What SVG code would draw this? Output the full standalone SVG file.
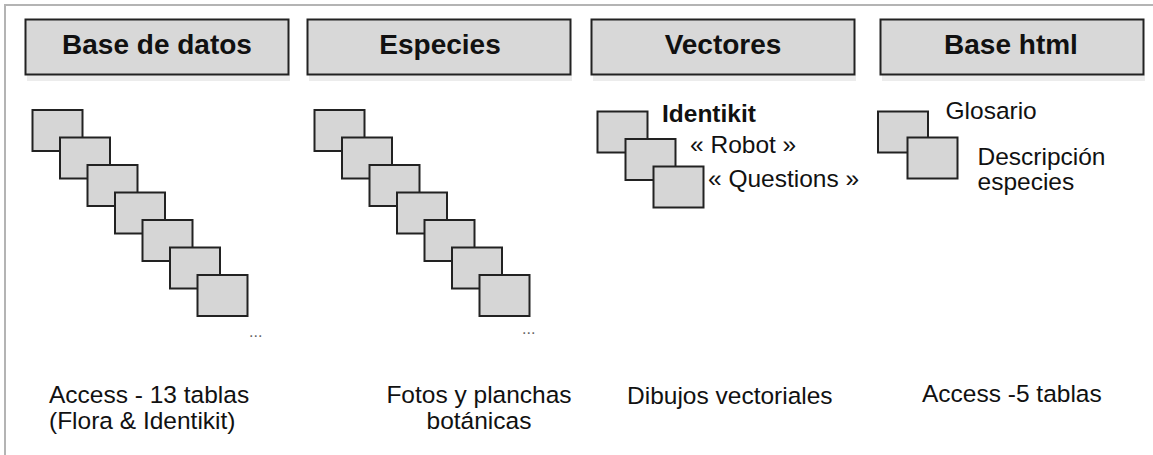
<svg xmlns="http://www.w3.org/2000/svg" width="1153" height="455" viewBox="0 0 1153 455">
  <style>
    .hdr { fill: #d8d8d8; stroke: #222; stroke-width: 2; }
    .shadow { fill: #ececec; }
    .hdrtxt { font-family: "Liberation Sans", Arial, sans-serif; font-weight: bold; font-size: 28px; fill: #111; text-anchor: middle; }
    .sq { fill: #d6d6d6; stroke: #222; stroke-width: 2; }
    .txt { font-family: "Liberation Sans", Arial, sans-serif; font-size: 24.5px; fill: #111; }
    .bold { font-weight: bold; }
    .dots { font-family: "Liberation Sans", Arial, sans-serif; font-size: 16px; fill: #666; }
    .frame { fill: none; stroke: #b4b4b4; stroke-width: 2; }
  </style>
  <defs>
    <rect id="s1" width="50" height="41" class="sq"/>
  </defs>
  <rect x="0" y="0" width="1153" height="455" fill="#ffffff"/>
  <path class="frame" d="M5,455 V5 H1153"/>

  <g id="col-base-datos">
    <rect class="shadow" x="27" y="75" width="263" height="6"/>
    <rect class="hdr" x="25.5" y="19.5" width="263" height="55"/>
    <text class="hdrtxt" x="157" y="54">Base de datos</text>
    <g id="stack-base-datos">
      <use href="#s1" x="32.5" y="110"/>
      <use href="#s1" x="60" y="137.5"/>
      <use href="#s1" x="87.5" y="165"/>
      <use href="#s1" x="115" y="192.5"/>
      <use href="#s1" x="142.5" y="220"/>
      <use href="#s1" x="170" y="247.5"/>
      <use href="#s1" x="197.5" y="275"/>
    </g>
    <text class="dots" x="249" y="337">...</text>
    <text class="txt" x="49" y="403">Access - 13 tablas</text>
    <text class="txt" x="49" y="429">(Flora &amp; Identikit)</text>
  </g>

  <g id="col-especies">
    <rect class="shadow" x="309" y="75" width="263" height="6"/>
    <rect class="hdr" x="307.5" y="19.5" width="263" height="55"/>
    <text class="hdrtxt" x="440" y="54">Especies</text>
    <g id="stack-especies">
      <use href="#s1" x="314.5" y="110"/>
      <use href="#s1" x="342" y="137.5"/>
      <use href="#s1" x="369.5" y="165"/>
      <use href="#s1" x="397" y="192.5"/>
      <use href="#s1" x="424.5" y="220"/>
      <use href="#s1" x="452" y="247.5"/>
      <use href="#s1" x="479.5" y="275"/>
    </g>
    <text class="dots" x="522" y="334">...</text>
    <text class="txt" x="479" y="403" text-anchor="middle">Fotos y planchas</text>
    <text class="txt" x="479" y="429" text-anchor="middle">botánicas</text>
  </g>

  <g id="col-vectores">
    <rect class="shadow" x="593" y="75" width="263" height="6"/>
    <rect class="hdr" x="591.5" y="19.5" width="263" height="55"/>
    <text class="hdrtxt" x="723" y="54">Vectores</text>
    <g id="stack-vectores">
      <use href="#s1" x="597.5" y="111.5"/>
      <use href="#s1" x="625.5" y="139"/>
      <use href="#s1" x="653.5" y="166.5"/>
    </g>
    <text class="txt bold" x="662" y="122">Identikit</text>
    <text class="txt" x="690" y="152.5">« Robot »</text>
    <text class="txt" x="708" y="187">« Questions »</text>
    <text class="txt" x="627" y="404">Dibujos vectoriales</text>
  </g>

  <g id="col-base-html">
    <rect class="shadow" x="882" y="75" width="263" height="6"/>
    <rect class="hdr" x="880.5" y="19.5" width="263" height="55"/>
    <text class="hdrtxt" x="1011" y="54">Base html</text>
    <g id="stack-base-html">
      <use href="#s1" x="878" y="111.5"/>
      <use href="#s1" x="907.5" y="137.5"/>
    </g>
    <text class="txt" x="945.5" y="119">Glosario</text>
    <text class="txt" x="977.5" y="164.5">Descripción</text>
    <text class="txt" x="977.5" y="189.5">especies</text>
    <text class="txt" x="922" y="402">Access -5 tablas</text>
  </g>

  <g id="connectors"/>
</svg>
